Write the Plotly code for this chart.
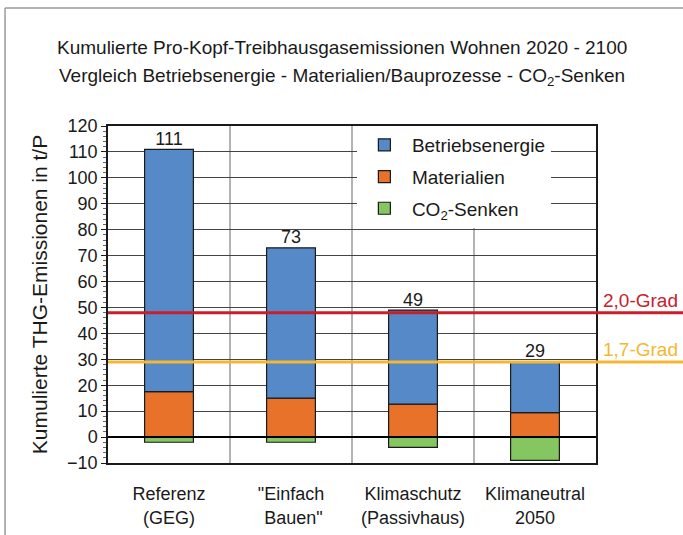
import plotly.graph_objects as go

# data
categories = ["Referenz<br>(GEG)", "\"Einfach<br> Bauen\"", "Klimaschutz<br>(Passivhaus)", "Klimaneutral<br>2050"]
materialien = [17.5, 15, 12.7, 9.4]
betriebsenergie = [93.5, 58, 36.3, 19.6]
senken = [-2, -2, -4, -9]
totals = [111, 73, 49, 29]
limits = [48, 29]
limit_labels = ["2,0-Grad", "1,7-Grad"]
title_lines = ["Kumulierte Pro-Kopf-Treibhausgasemissionen Wohnen 2020 - 2100",
               "Vergleich Betriebsenergie - Materialien/Bauprozesse - CO<sub>2</sub>-Senken"]

FONT = "Liberation Sans, Arial, sans-serif"
BLUE = "#5589c8"
ORANGE = "#e9722a"
GREEN = "#86c660"
RED = "#c8202a"
YELLOW = "#f5b731"
TXT = "#1a1a1a"

x = list(range(len(categories)))

fig = go.Figure()

fig.add_trace(go.Bar(
    x=x, y=materialien, name="Materialien", width=0.4,
    marker=dict(color=ORANGE, line=dict(color=TXT, width=1.2)),
    legendrank=2, legendgroup="m",
))
fig.add_trace(go.Bar(
    x=x, y=betriebsenergie, name="Betriebsenergie", width=0.4,
    marker=dict(color=BLUE, line=dict(color=TXT, width=1.2)),
    legendrank=1, legendgroup="b",
))
fig.add_trace(go.Bar(
    x=x, y=senken, name="CO<sub>2</sub>-Senken", width=0.4,
    marker=dict(color=GREEN, line=dict(color=TXT, width=1.2)),
    legendrank=3, legendgroup="s",
))

# totals above bars
fig.add_trace(go.Scatter(
    x=x, y=totals, mode="text", text=[str(t) for t in totals],
    textposition="top center", textfont=dict(size=18, color=TXT),
    showlegend=False, hoverinfo="skip",
))

# separators between categories
for b in [0.5, 1.5, 2.5]:
    fig.add_shape(type="line", xref="x", yref="paper", x0=b, x1=b, y0=0, y1=1,
                  line=dict(color="#9a9a9a", width=1.5), layer="below")

# zero line
fig.add_shape(type="line", xref="paper", yref="y", x0=0, x1=1, y0=0, y1=0,
              line=dict(color="black", width=2))

# climate limit lines and labels
for val, lab, col in zip(limits, limit_labels, [RED, YELLOW]):
    fig.add_shape(type="line", xref="paper", yref="y", x0=0, x1=1.18, y0=val, y1=val,
                  line=dict(color=col, width=3))
    fig.add_annotation(xref="paper", yref="y", x=1.172, y=val, text=lab,
                       xanchor="right", yanchor="bottom", showarrow=False,
                       font=dict(size=19, color=col), yshift=0)

# two-line title
for yy, line in zip([1.234, 1.145], title_lines):
    fig.add_annotation(xref="paper", yref="paper", x=0.4795, y=yy, text=line,
                       xanchor="center", yanchor="middle", showarrow=False,
                       font=dict(size=19, color=TXT))

# outer frame (left and top edges)
fig.add_shape(type="line", xref="paper", yref="paper", x0=-0.211, x1=-0.211, y0=-0.3, y1=1.35,
              line=dict(color="#9a9a9a", width=1.5))
fig.add_shape(type="line", xref="paper", yref="paper", x0=-0.211, x1=1.25, y0=1.35, y1=1.35,
              line=dict(color="#9a9a9a", width=1.5))

fig.update_layout(
    width=683, height=535,
    margin=dict(l=108, r=87, t=126, b=72),
    paper_bgcolor="white", plot_bgcolor="white",
    font=dict(family=FONT, size=18, color=TXT),
    barmode="relative",
    showlegend=True,
    legend=dict(
        x=0.51, y=1.0, xanchor="left", yanchor="top",
        bgcolor="white", borderwidth=0, font=dict(size=19),
        traceorder="grouped", tracegroupgap=4, itemwidth=45,
    ),
    xaxis=dict(
        tickmode="array", tickvals=x, ticktext=categories,
        range=[-0.5, 3.5], showgrid=False, zeroline=False,
        showline=True, linecolor=TXT, linewidth=1.5, mirror=True,
        ticks="", tickfont=dict(size=18), ticklabelstandoff=14, automargin=False,
    ),
    yaxis=dict(
        range=[-10, 120], dtick=10, tick0=0,
        showgrid=True, gridcolor="#444444", gridwidth=1,
        zeroline=False, automargin=False,
        showline=True, linecolor=TXT, linewidth=1.5, mirror=True,
        ticks="outside", ticklen=5, tickcolor=TXT,
        minor=dict(ticks="outside", ticklen=3, dtick=2, tickcolor="#666", showgrid=False),
        tickfont=dict(size=18),
        title=dict(text="Kumulierte THG-Emissionen in t/P", font=dict(size=21), standoff=14),
    ),
)

fig.write_html("out.html", config={"displayModeBar": False},
               post_script="document.body.style.margin='0';document.body.style.overflow='hidden';")
